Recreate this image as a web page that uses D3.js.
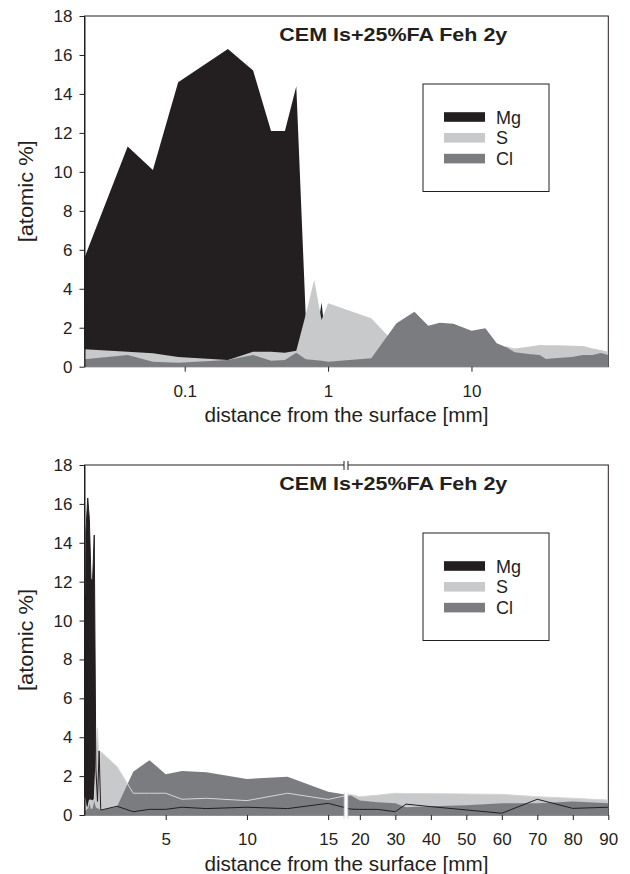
<!DOCTYPE html>
<html><head><meta charset="utf-8">
<script src="https://cdn.jsdelivr.net/npm/d3@7/dist/d3.min.js"></script>
<style>
body{margin:0;background:#fff}
text{font-family:"Liberation Sans",Arial,Helvetica,sans-serif;fill:#231f20}
</style>
</head><body>
<svg id="chart" width="630" height="874"></svg>
<script>
// ---- data ----
const distances = [0.02, 0.04, 0.06, 0.09, 0.2, 0.3, 0.4, 0.5, 0.6, 0.7, 0.8, 0.9, 1, 2, 3, 4, 5, 6, 7.5, 10, 12.5, 15, 17.5, 20, 25, 30, 33, 40, 50, 60, 70, 80, 90];
const mgValues = [5.6, 11.3, 10.1, 14.6, 16.3, 15.2, 12.1, 12.1, 14.4, 2.4, 0.7, 3.3, 0.25, 0.45, 0.17, 0.29, 0.29, 0.4, 0.33, 0.4, 0.33, 0.6, 0.3, 0.29, 0.29, 0.17, 0.56, 0.43, 0.26, 0.09, 0.81, 0.34, 0.4];
const sValues  = [0.89, 0.77, 0.69, 0.5, 0.34, 0.77, 0.77, 0.72, 0.82, 2.7, 4.46, 2.4, 3.26, 2.49, 1.12, 1.12, 1.12, 0.81, 0.86, 0.74, 1.12, 0.8, 1.05, 0.94, 1.02, 1.12, 1.1, 1.1, 1.08, 1.06, 0.94, 0.86, 0.77];
const clValues = [0.38, 0.6, 0.26, 0.2, 0.35, 0.6, 0.3, 0.35, 0.72, 0.38, 0.35, 0.3, 0.25, 0.43, 2.23, 2.82, 2.1, 2.26, 2.2, 1.85, 1.97, 1.2, 1.0, 0.74, 0.65, 0.6, 0.4, 0.45, 0.5, 0.6, 0.6, 0.7, 0.6];
const seriesNames = ["Mg", "S", "Cl"];
const seriesColors = ["#231f20", "#c8c9cb", "#7b7c80"];
const yTickValues = [0, 2, 4, 6, 8, 10, 12, 14, 16, 18];
const topXTicks = [0.1, 1, 10];
const bottomXTicks = [5, 10, 15, 20, 30, 40, 50, 60, 70, 80, 90];
const breakValue = 16.1;
const chartTitle = "CEM Is+25%FA Feh 2y";
const xLabel = "distance from the surface [mm]";
const yLabel = "[atomic %]";

const seriesValues = [mgValues, sValues, clValues];
const rows = distances.map((d, i) => ({d, v: seriesValues.map(a => a[i])}));

const svg = d3.select("#chart");
const left = 84.5, right = 608.3;
const ink = "#231f20";

function panel(top, bottom, x, xTicks, withLines, id) {
  const g = svg.append("g");
  const y = d3.scaleLinear().domain([0, 18]).range([bottom, top]);

  g.append("clipPath").attr("id", id).append("rect")
    .attr("x", left).attr("y", top).attr("width", right - left).attr("height", bottom - top);

  // frame
  g.append("rect").attr("x", left).attr("y", top).attr("width", right - left).attr("height", bottom - top)
    .attr("fill", "none").attr("stroke", ink).attr("stroke-width", 1);

  const data = g.append("g").attr("clip-path", `url(#${id})`);
  seriesNames.forEach((n, k) => {
    const area = d3.area().x(r => x(r.d)).y0(y(0)).y1(r => y(r.v[k]));
    data.append("path").datum(rows).attr("d", area).attr("fill", seriesColors[k]).attr("stroke", "none");
  });
  if (withLines) {
    [1, 0].forEach(k => {
      const line = d3.line().x(r => x(r.d)).y(r => y(r.v[k]));
      data.append("path").datum(rows).attr("d", line).attr("fill", "none")
        .attr("stroke", k === 1 ? "#d4d5d7" : ink).attr("stroke-width", 1);
    });
  }

  // y axis
  const ya = g.append("g").attr("transform", `translate(${left},0)`)
    .call(d3.axisLeft(y).tickValues(yTickValues).tickSize(5).tickSizeOuter(0).tickPadding(7));
  ya.selectAll("text").attr("font-size", 17).style("font-family", "'Liberation Sans',Arial,sans-serif").attr("fill", ink);
  ya.selectAll("line,path").attr("stroke", ink);

  // x axis
  const xa = g.append("g").attr("transform", `translate(0,${bottom})`)
    .call(d3.axisBottom(x).tickValues(xTicks).tickFormat(d => String(d)).tickSize(5).tickSizeOuter(0).tickPadding(13));
  xa.select(".domain").remove();
  xa.selectAll("text").attr("font-size", 17).style("font-family", "'Liberation Sans',Arial,sans-serif").attr("fill", ink);
  xa.selectAll("line").attr("stroke", ink);

  // title
  g.append("text").attr("x", 279.3).attr("y", top + 25).attr("font-size", 19).attr("font-weight", "bold")
    .attr("textLength", 228).attr("lengthAdjust", "spacingAndGlyphs").text(chartTitle);

  // legend
  const lg = g.append("g");
  lg.append("rect").attr("x", 423).attr("y", top + 68).attr("width", 126).attr("height", 107.5)
    .attr("fill", "#fff").attr("stroke", ink).attr("stroke-width", 1);
  seriesNames.forEach((n, k) => {
    const cy = top + 101 + k * 20.8;
    lg.append("rect").attr("x", 444).attr("y", cy - 4.8).attr("width", 41).attr("height", 9.6).attr("fill", seriesColors[k]);
    lg.append("text").attr("x", 496).attr("y", cy + 6.5).attr("font-size", 18).text(n);
  });

  // axis titles
  g.append("text").attr("x", (left + right) / 2).attr("y", bottom + 55.5).attr("text-anchor", "middle")
    .attr("font-size", 20).attr("textLength", 284).attr("lengthAdjust", "spacingAndGlyphs").text(xLabel);
  g.append("text").attr("transform", `translate(33,${(top + bottom) / 2}) rotate(-90)`).attr("text-anchor", "middle")
    .attr("font-size", 20).attr("textLength", 102).attr("lengthAdjust", "spacingAndGlyphs").text(yLabel);
  return {g, y};
}

// top panel: log scale
const xLog = d3.scaleLog().domain([0.02, 90]).range([left, right]);
panel(16, 366.7, xLog, topXTicks, false, "clipTop");

// bottom panel: broken linear scale
const xBroken = d3.scaleLinear().domain([0, breakValue, 90]).range([left, 346, right]);
const bp = panel(465, 815, xBroken, bottomXTicks, true, "clipBottom");

// axis break marks
const bx = xBroken(breakValue);
bp.g.append("rect").attr("x", bx - 2).attr("y", 464).attr("width", 4).attr("height", 2).attr("fill", "#fff");
[bx - 2, bx + 2].forEach(px => {
  bp.g.append("line").attr("x1", px).attr("x2", px).attr("y1", 461).attr("y2", 470).attr("stroke", ink).attr("stroke-width", 1);
});
bp.g.append("rect").attr("x", bx - 1.8).attr("y", 793).attr("width", 3.6).attr("height", 26).attr("fill", "#fff");
[bx - 2, bx + 2].forEach(px => {
  bp.g.append("line").attr("x1", px).attr("x2", px).attr("y1", 793).attr("y2", 819).attr("stroke", "#bbb").attr("stroke-width", 0.6);
});
</script>
</body></html>
